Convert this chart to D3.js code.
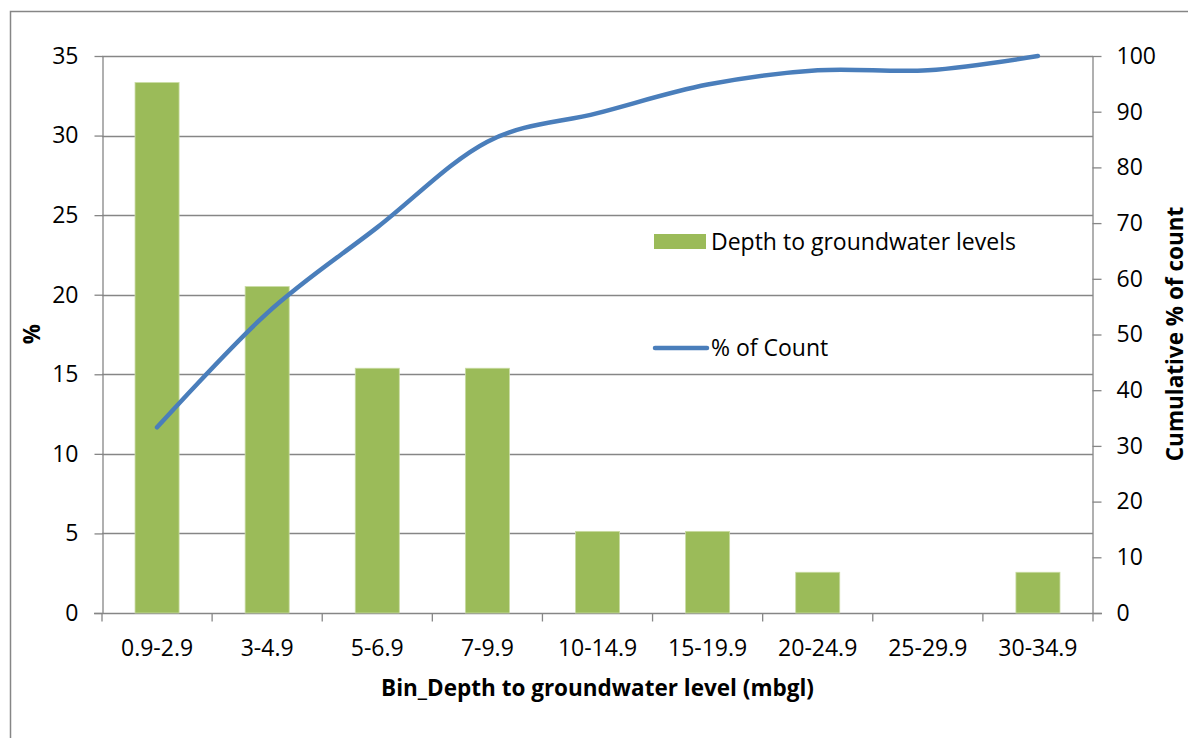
<!DOCTYPE html>
<html>
<head>
<meta charset="utf-8">
<script src="https://cdn.jsdelivr.net/npm/d3@7"></script>
<style>
  html, body { margin: 0; padding: 0; background: #fff; overflow: hidden; }
  svg { display: block; }
  text { font-family: "Open Sans", sans-serif; fill: #000; }
</style>
</head>
<body>
<div id="chart"></div>
<script>
// data
const bins = ['0.9-2.9', '3-4.9', '5-6.9', '7-9.9', '10-14.9', '15-19.9', '20-24.9', '25-29.9', '30-34.9'];
const pctValues = [33.33, 20.51, 15.38, 15.38, 5.13, 5.13, 2.56, 0, 2.56];
const cumValues = [33.33, 53.85, 69.23, 84.62, 89.74, 94.87, 97.44, 97.44, 100];
const leftTicks = [0, 5, 10, 15, 20, 25, 30, 35];
const rightTicks = [0, 10, 20, 30, 40, 50, 60, 70, 80, 90, 100];

const width = 1188, height = 738;
const margin = { top: 56, right: 95, bottom: 125, left: 102 };
const innerWidth = width - margin.left - margin.right;
const innerHeight = height - margin.top - margin.bottom;

const tickFont = '23px';
const titleFont = '22.5px';

const svg = d3.select('#chart').append('svg')
    .attr('width', width)
    .attr('height', height);

// outer chart border (only top and left visible in the crop)
svg.append('path')
    .attr('d', `M10.5,${height}V11.5H${width}`)
    .attr('fill', 'none')
    .attr('stroke', '#868686')
    .attr('stroke-width', 1.5);

const g = svg.append('g')
    .attr('transform', `translate(${margin.left},${margin.top})`);

const x = d3.scaleBand()
    .domain(bins)
    .range([0, innerWidth])
    .paddingInner(0.6)
    .paddingOuter(0.3);

const xEdge = d3.scaleBand().domain(bins).range([0, innerWidth]);

const yLeft = d3.scaleLinear().domain([0, 35]).range([innerHeight, 0]);
const yRight = d3.scaleLinear().domain([0, 100]).range([innerHeight, 0]);

const gray = '#868686';

// gridlines
g.append('g')
    .selectAll('line')
    .data(leftTicks.filter(d => d > 0))
    .join('line')
    .attr('x1', 0)
    .attr('x2', innerWidth)
    .attr('y1', d => Math.round(yLeft(d)) + 0.5)
    .attr('y2', d => Math.round(yLeft(d)) + 0.5)
    .attr('stroke', gray)
    .attr('stroke-width', 1.3);

// left axis
const leftAxis = g.append('g')
    .attr('transform', 'translate(0.5,0)')
    .call(d3.axisLeft(yLeft).tickValues(leftTicks).tickSize(8).tickPadding(16).tickSizeOuter(0));

// right axis
const rightAxis = g.append('g')
    .attr('transform', `translate(${innerWidth - 0.5},0)`)
    .call(d3.axisRight(yRight).tickValues(rightTicks).tickSize(9).tickPadding(15).tickSizeOuter(0));

// bottom axis: ticks at category edges
const edges = bins.map(b => xEdge(b)).concat([innerWidth]);
const bottomAxis = g.append('g')
    .attr('transform', `translate(0,${innerHeight + 0.5})`);
bottomAxis.append('line')
    .attr('x1', -8)
    .attr('x2', innerWidth + 9)
    .attr('stroke', gray)
    .attr('stroke-width', 1.3);
bottomAxis.selectAll('.edge')
    .data(edges)
    .join('line')
    .attr('class', 'edge')
    .attr('x1', d => d)
    .attr('x2', d => d)
    .attr('y1', 0)
    .attr('y2', 8)
    .attr('stroke', gray)
    .attr('stroke-width', 1.3);
bottomAxis.selectAll('.lbl')
    .data(bins)
    .join('text')
    .attr('class', 'lbl')
    .attr('x', d => xEdge(d) + xEdge.bandwidth() / 2)
    .attr('y', 42)
    .attr('text-anchor', 'middle')
    .style('font-size', tickFont)
    .text(d => d);

[leftAxis, rightAxis].forEach(ax => {
    ax.attr('font-size', null).attr('font-family', null);
    ax.select('.domain').attr('stroke', gray).attr('stroke-width', 1.3);
    ax.selectAll('.tick line').attr('stroke', gray).attr('stroke-width', 1.3);
    ax.selectAll('.tick text')
        .style('font-size', tickFont)
        .attr('fill', '#000');
});

// bars
g.append('g')
    .selectAll('rect')
    .data(bins.map((b, i) => ({ bin: b, value: pctValues[i] })))
    .join('rect')
    .attr('x', d => x(d.bin))
    .attr('width', x.bandwidth())
    .attr('y', d => yLeft(d.value))
    .attr('height', d => innerHeight - yLeft(d.value))
    .attr('fill', '#9bbb59')
    .attr('stroke', '#c9dba2')
    .attr('stroke-width', 0.8);

// cumulative line
const line = d3.line()
    .x((d, i) => xEdge(bins[i]) + xEdge.bandwidth() / 2)
    .y(d => yRight(d))
    .curve(d3.curveCatmullRom.alpha(0));

g.append('path')
    .datum(cumValues)
    .attr('d', line)
    .attr('fill', 'none')
    .attr('stroke', '#4a7ebb')
    .attr('stroke-width', 4.5)
    .attr('stroke-linecap', 'round');

// legend
const legend = svg.append('g');
legend.append('rect')
    .attr('x', 654)
    .attr('y', 234)
    .attr('width', 52)
    .attr('height', 15)
    .attr('fill', '#9bbb59');
legend.append('text')
    .attr('x', 711)
    .attr('y', 250)
    .style('font-size', tickFont)
    .text('Depth to groundwater levels');
legend.append('line')
    .attr('x1', 655)
    .attr('x2', 707)
    .attr('y1', 348)
    .attr('y2', 348)
    .attr('stroke', '#4a7ebb')
    .attr('stroke-width', 4.5)
    .attr('stroke-linecap', 'round');
legend.append('text')
    .attr('x', 711)
    .attr('y', 356)
    .style('font-size', tickFont)
    .text('% of Count');

// axis titles
svg.append('text')
    .attr('x', margin.left + innerWidth / 2)
    .attr('y', 696)
    .attr('text-anchor', 'middle')
    .style('font-size', titleFont)
    .style('font-weight', 'bold')
    .text('Bin_Depth to groundwater level (mbgl)');

svg.append('text')
    .attr('transform', 'translate(40,334) rotate(-90)')
    .attr('text-anchor', 'middle')
    .style('font-size', titleFont)
    .style('font-weight', 'bold')
    .text('%');

svg.append('text')
    .attr('transform', 'translate(1183,334) rotate(-90)')
    .attr('text-anchor', 'middle')
    .style('font-size', titleFont)
    .style('font-weight', 'bold')
    .text('Cumulative % of count');
</script>
</body>
</html>
